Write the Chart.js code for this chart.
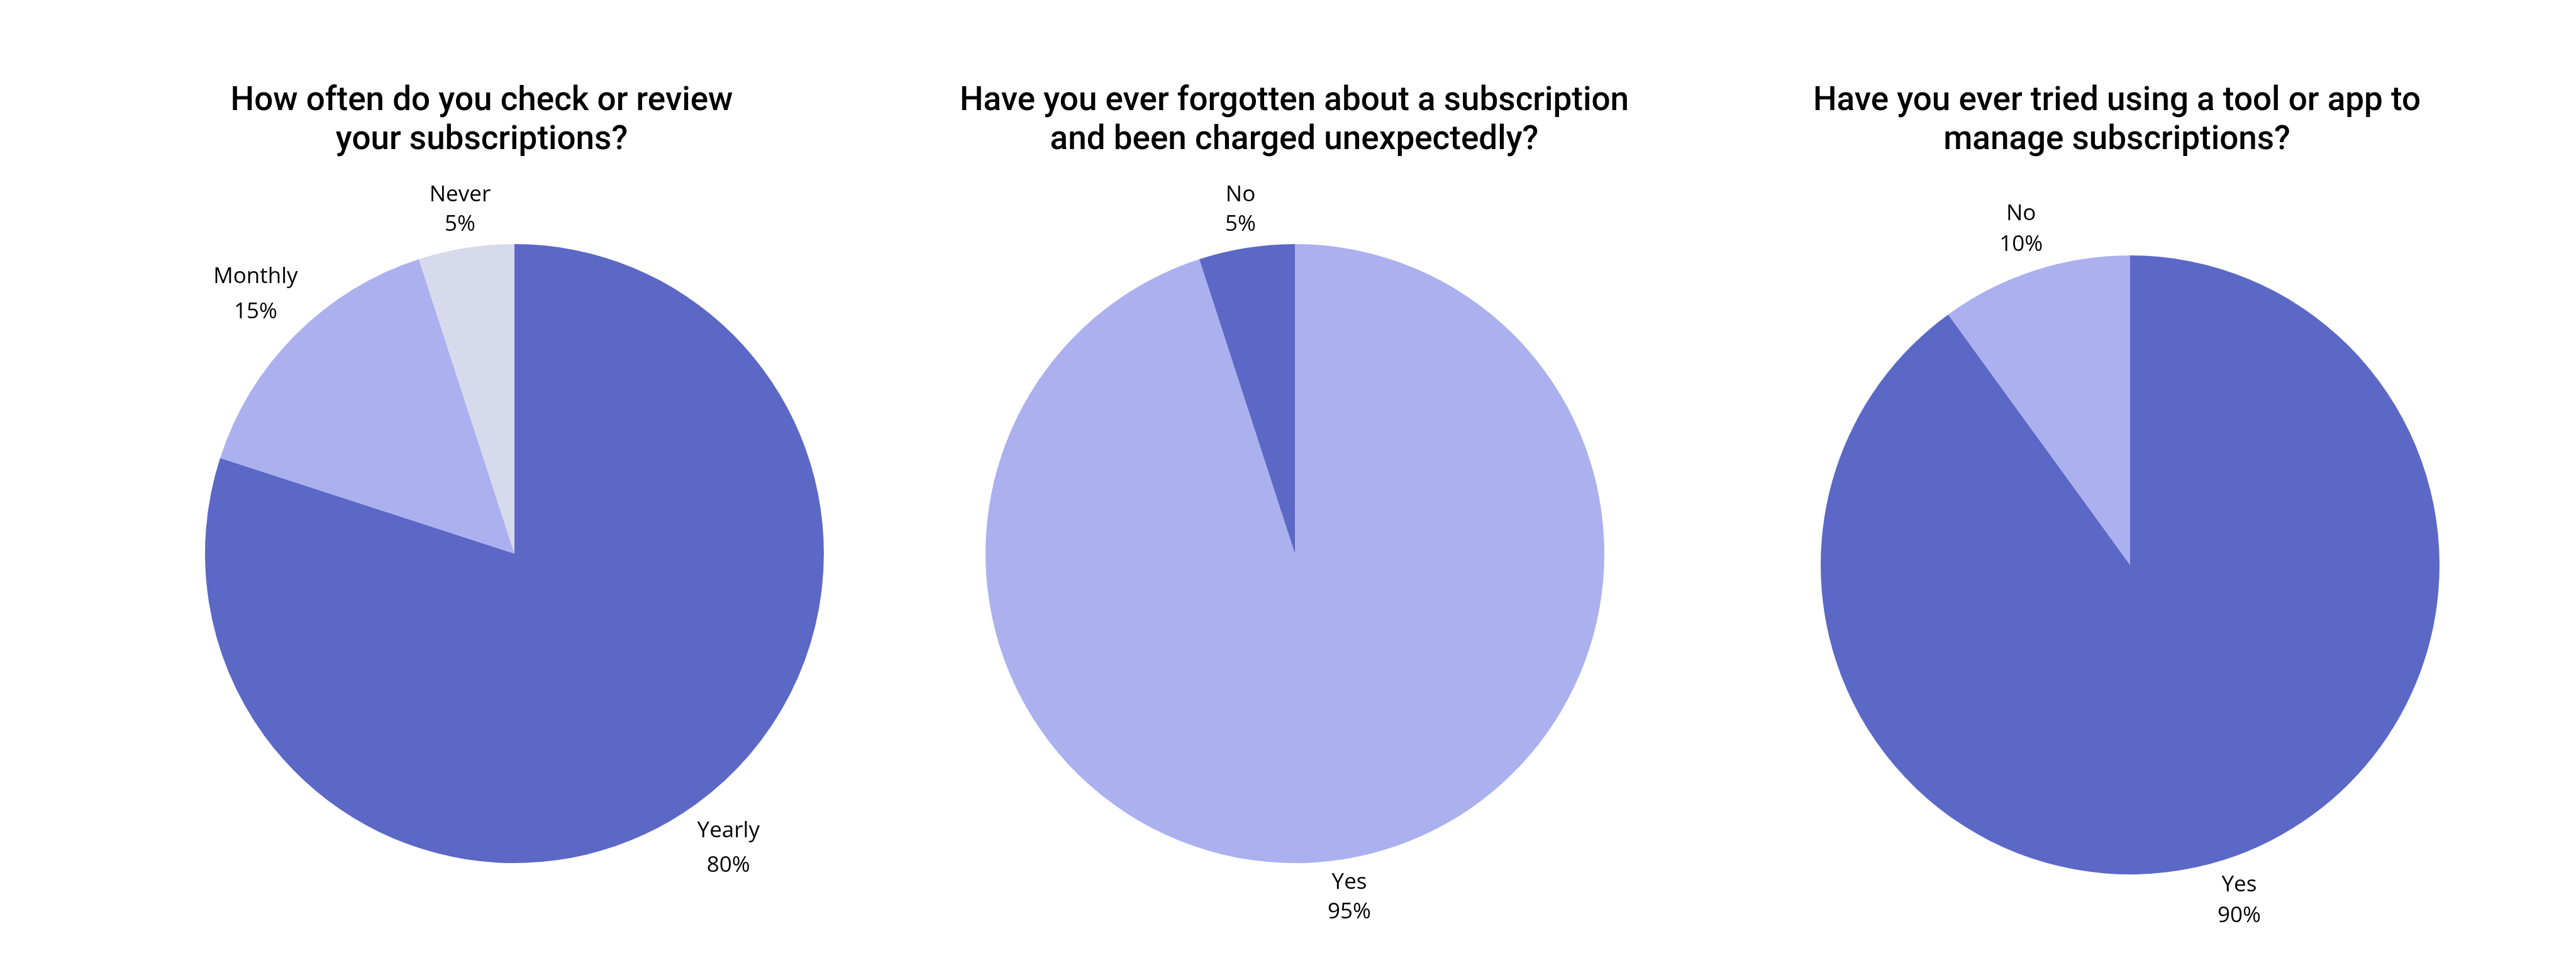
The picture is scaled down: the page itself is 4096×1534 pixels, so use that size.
<!DOCTYPE html>
<html>
<head>
<meta charset="utf-8">
<script src="https://cdn.jsdelivr.net/npm/chart.js@4.4.1/dist/chart.umd.min.js"></script>
<style>
  html, body { margin: 0; padding: 0; background: #fff; }
  #wrap { position: relative; width: 4096px; height: 1534px; }
  canvas { position: absolute; top: 0; }
</style>
</head>
<body>
<div id="wrap">
  <canvas id="pie1" width="1365" height="1534" style="left:0px"></canvas>
  <canvas id="pie2" width="1365" height="1534" style="left:1365px"></canvas>
  <canvas id="pie3" width="1366" height="1534" style="left:2730px"></canvas>
</div>
<script>
// survey answers (percent of respondents)
const reviewLabels = ['Yearly', 'Monthly', 'Never'];
const reviewValues = [80, 15, 5];
const forgotLabels = ['Yes', 'No'];
const forgotValues = [95, 5];
const toolLabels = ['Yes', 'No'];
const toolValues = [90, 10];

const reviewTitle = ['How often do you check or review', 'your subscriptions?'];
const forgotTitle = ['Have you ever forgotten about a subscription', 'and been charged unexpectedly?'];
const toolTitle = ['Have you ever tried using a tool or app to', 'manage subscriptions?'];

const DARK = '#5c68c6';
const LIGHT = '#abb0ef';
const PALE = '#d7d9ec';

// title drawn by hand so it can sit off the pie's centre like the original
const questionTitle = {
    id: 'questionTitle',
    afterDraw(chart, args, opts) {
        const ctx = chart.ctx;
        ctx.save();
        ctx.font = '500 53px Roboto';
        ctx.fillStyle = '#000';
        ctx.textAlign = 'center';
        ctx.textBaseline = 'alphabetic';
        opts.lines.forEach((line, i) => ctx.fillText(line, opts.x, 175 + i * 62));
        ctx.restore();
    }
};

// "Label / nn%" outside every slice
const outsideLabels = {
    id: 'outsideLabels',
    afterDatasetsDraw(chart) {
        const ctx = chart.ctx;
        const meta = chart.getDatasetMeta(0);
        const values = chart.data.datasets[0].data;
        const total = values.reduce((a, b) => a + b, 0);
        ctx.save();
        ctx.font = '35px "Open Sans"';
        ctx.fillStyle = '#000';
        ctx.textAlign = 'center';
        ctx.textBaseline = 'middle';
        meta.data.forEach((arc, i) => {
            const p = arc.getProps(['x', 'y', 'startAngle', 'endAngle', 'outerRadius'], true);
            const mid = (p.startAngle + p.endAngle) / 2;
            const s = Math.sin(2 * mid) ** 2;
            const dist = p.outerRadius + 58 + 32 * s;
            const gap = (46 + 10 * s) / 2;
            const x = p.x + Math.cos(mid) * dist;
            const y = p.y + Math.sin(mid) * dist;
            ctx.fillText(chart.data.labels[i], x, y - gap);
            ctx.fillText(Math.round(values[i] / total * 100) + '%', x, y + gap);
        });
        ctx.restore();
    }
};

function makePie(id, labels, values, colors, title, titleX, padding) {
    return new Chart(document.getElementById(id), {
        type: 'pie',
        data: {
            labels: labels,
            datasets: [{
                data: values,
                backgroundColor: colors,
                borderWidth: 0
            }]
        },
        options: {
            responsive: false,
            animation: false,
            devicePixelRatio: 1,
            layout: { padding: padding },
            plugins: {
                legend: { display: false },
                tooltip: { enabled: false },
                questionTitle: { lines: title, x: titleX }
            }
        },
        plugins: [questionTitle, outsideLabels]
    });
}

makePie('pie1', reviewLabels, reviewValues, [DARK, LIGHT, PALE], reviewTitle, 766,
    { left: 326, right: 55, top: 388, bottom: 162 });
makePie('pie2', forgotLabels, forgotValues, [LIGHT, DARK], forgotTitle, 693,
    { left: 202, right: 179, top: 388, bottom: 162 });
makePie('pie3', toolLabels, toolValues, [DARK, LIGHT], toolTitle, 636,
    { left: 165, right: 217, top: 406, bottom: 144 });
</script>
</body>
</html>
